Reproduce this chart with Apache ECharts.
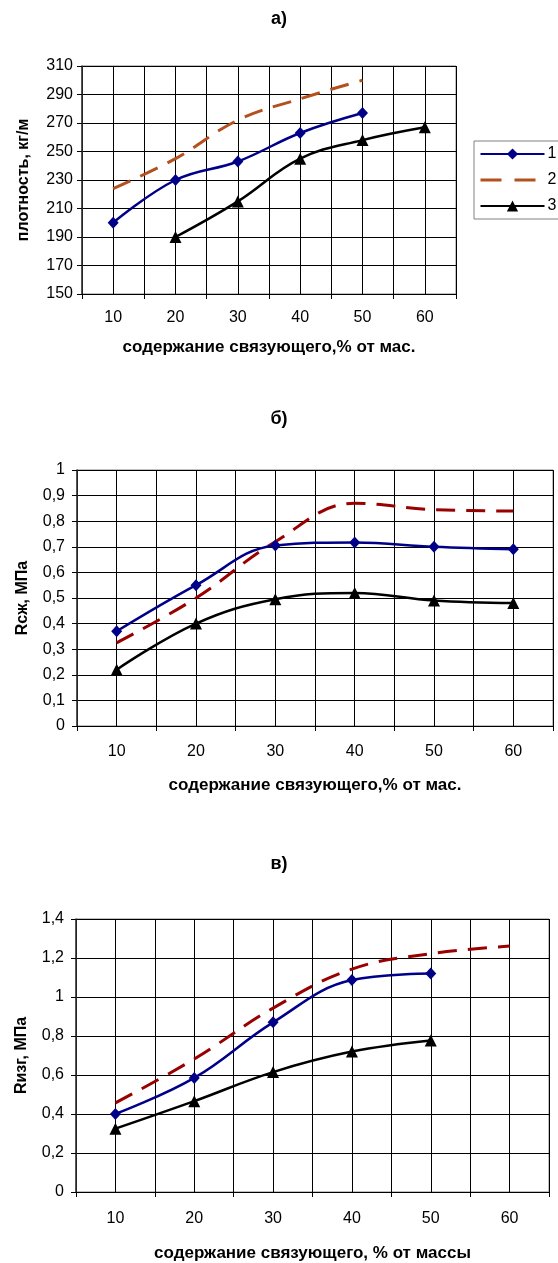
<!DOCTYPE html>
<html>
<head>
<meta charset="utf-8">
<script src="https://cdn.jsdelivr.net/npm/echarts@6/dist/echarts.min.js"></script>
<style>
html,body{margin:0;padding:0;background:#fff;}
#c{width:558px;height:1263px;}
</style>
</head>
<body>
<div id="c"></div>
<script>
// ---- data ----
const xValues = [10, 20, 30, 40, 50, 60];
const seriesNames = ['1', '2', '3'];

// chart а) density
const densS1 = [200, 230, 243, 263, 277, null];
const densS2 = [224, 245, 272, 287, 300, null];
const densS3 = [null, 190, 215, 245, 258, 267];

// chart б) compressive strength
const compS1 = [0.37, 0.55, 0.705, 0.717, 0.70, 0.69];
const compS2 = [0.325, 0.50, 0.72, 0.87, 0.845, 0.84];
const compS3 = [0.22, 0.40, 0.495, 0.52, 0.49, 0.48];

// chart в) bending strength
const bendS1 = [0.40, 0.585, 0.87, 1.087, 1.12, null];
const bendS2 = [0.457, 0.682, 0.943, 1.143, 1.222, 1.261];
const bendS3 = [0.325, 0.466, 0.615, 0.72, 0.777, null];

const titles = ['а)', 'б)', 'в)'];
const yNames = ['плотность, кг/м', 'Rсж, МПа', 'Rизг, МПа'];
const xNames = ['содержание связующего,% от мас.', 'содержание связующего,% от мас.', 'содержание связующего, % от массы'];

// ---- styles ----
const FONT = '"Liberation Sans", Arial, sans-serif';
const BLUE = '#000088';
const BLACK = '#000000';
const DASH_A = '#b4501e';
const DASH_BC = '#990000';

function pairs(vals) {
  const out = [];
  vals.forEach((v, i) => { if (v !== null) out.push([xValues[i], v]); });
  return out;
}
function fmtComma(v) {
  return String(+Number(v).toFixed(1)).replace('.', ',');
}

const grids = [
  { left: 82, top: 66, width: 374, height: 228 },
  { left: 77, top: 470, width: 476, height: 256 },
  { left: 76, top: 919, width: 473, height: 275 }
];
grids.forEach(g => { g.show = true; g.borderColor = '#808080'; g.borderWidth = 1; g.containLabel = false; });

const xNameGaps = [45, 51, 53];
const xLabelMargins = [16, 18, 19];
const yNameGaps = [50, 46, 46];
const yLabelMargins = [9, 12, 12];
const yRanges = [
  { min: 150, max: 310, interval: 20, fmt: v => String(v) },
  { min: 0, max: 1, interval: 0.1, fmt: fmtComma },
  { min: 0, max: 1.4, interval: 0.2, fmt: fmtComma }
];

const xAxes = [];
const yAxes = [];
for (let i = 0; i < 3; i++) {
  xAxes.push({
    type: 'value', gridIndex: i, min: 5, max: 65, interval: 5,
    name: xNames[i], nameLocation: 'middle', nameGap: xNameGaps[i],
    nameTextStyle: { fontFamily: FONT, fontWeight: 'bold', fontSize: 17, color: '#000' },
    axisLine: { show: true, lineStyle: { color: '#000', width: 1 } },
    axisTick: { show: false },
    axisLabel: {
      margin: xLabelMargins[i], fontFamily: FONT, fontSize: 16, color: '#000',
      formatter: v => (v % 10 === 0 && v >= 10 && v <= 60) ? String(v) : ''
    },
    splitLine: { show: true, lineStyle: { color: '#000', width: 1 } }
  });
  xAxes.push({
    type: 'value', gridIndex: i, min: 5, max: 65, interval: 10, position: 'bottom',
    axisLine: { show: false },
    axisTick: { show: true, length: 5, lineStyle: { color: '#000' } },
    axisLabel: { show: false },
    splitLine: { show: false }
  });
  const r = yRanges[i];
  yAxes.push({
    type: 'value', gridIndex: i, min: r.min, max: r.max, interval: r.interval,
    name: yNames[i], nameLocation: 'middle', nameRotate: 90, nameGap: yNameGaps[i],
    nameTextStyle: { fontFamily: FONT, fontWeight: 'bold', fontSize: 16, color: '#000' },
    axisLine: { show: true, lineStyle: { color: '#333', width: 1.5 } },
    axisTick: { show: true, length: 5, lineStyle: { color: '#000' } },
    axisLabel: { margin: yLabelMargins[i], fontFamily: FONT, fontSize: 16, color: '#000', formatter: r.fmt },
    splitLine: { show: true, lineStyle: { color: '#000', width: 1 } }
  });
}

const sets = [
  [densS1, densS2, densS3, DASH_A],
  [compS1, compS2, compS3, DASH_BC],
  [bendS1, bendS2, bendS3, DASH_BC]
];
const series = [];
sets.forEach((s, i) => {
  series.push({
    name: seriesNames[0], type: 'line', xAxisIndex: i * 2, yAxisIndex: i,
    data: pairs(s[0]), smooth: 0.4, symbol: 'diamond', symbolSize: [11, 12],
    lineStyle: { color: BLUE, width: 2.5 }, itemStyle: { color: BLUE }, z: 4
  });
  series.push({
    name: seriesNames[1], type: 'line', xAxisIndex: i * 2, yAxisIndex: i,
    data: pairs(s[1]), smooth: 0.4, symbol: 'none',
    lineStyle: { color: s[3], width: 3, type: [19, 11] }, itemStyle: { color: s[3] }, z: 3
  });
  series.push({
    name: seriesNames[2], type: 'line', xAxisIndex: i * 2, yAxisIndex: i,
    data: pairs(s[2]), smooth: 0.4, symbol: 'triangle', symbolSize: 12,
    lineStyle: { color: BLACK, width: 2.5 }, itemStyle: { color: BLACK }, z: 4
  });
});

const titleTops = [10, 410, 855];
const option = {
  animation: false,
  backgroundColor: '#fff',
  title: titles.map((t, i) => ({
    text: t, left: 'center', top: titleTops[i], padding: 0,
    textStyle: { fontFamily: FONT, fontWeight: 'bold', fontSize: 18, color: '#000' }
  })),
  legend: {
    orient: 'vertical', left: 474, top: 141,
    data: [
      { name: '1' },
      { name: '2', itemStyle: { opacity: 0 }, lineStyle: { type: [21, 13], width: 3 } },
      { name: '3' }
    ],
    padding: [5, 30, 5, 5], itemWidth: 64, itemHeight: 14, itemGap: 10,
    borderColor: '#808080', borderWidth: 1,
    textStyle: { fontFamily: FONT, fontSize: 16, color: '#000', padding: [0, 0, 0, -2] }
  },
  grid: grids,
  xAxis: xAxes,
  yAxis: yAxes,
  series: series
};
const chart = echarts.init(document.getElementById('c'), null, { renderer: 'canvas' });
chart.setOption(option);
</script>
</body>
</html>
